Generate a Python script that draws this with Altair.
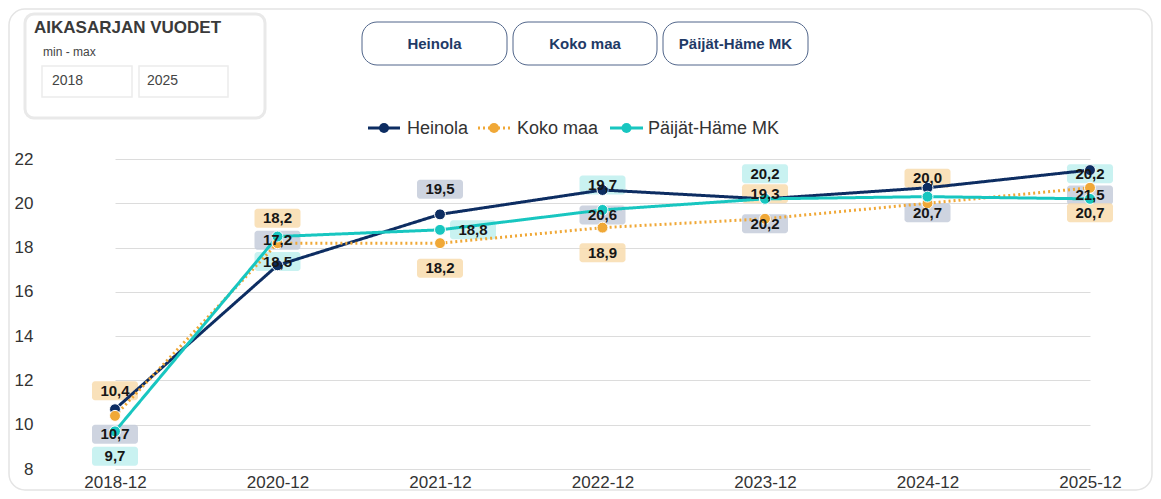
import altair as alt
import pandas as pd

# ---- data ----
periods = ["2018-12", "2020-12", "2021-12", "2022-12", "2023-12", "2024-12", "2025-12"]
series_names = ["Heinola", "Koko maa", "Päijät-Häme MK"]
heinola = [10.7, 17.2, 19.5, 20.6, 20.2, 20.7, 21.5]
koko_maa = [10.4, 18.2, 18.2, 18.9, 19.3, 20.0, 20.7]
paijat_hame = [9.7, 18.5, 18.8, 19.7, 20.2, 20.3, 20.2]
y_ticks = [8, 10, 12, 14, 16, 18, 20, 22]

# label placement per point: a = above, b = below, r = right, "" = hidden
heinola_pos = ["b", "a", "a", "b", "b", "b", "b"]
koko_maa_pos = ["a", "a", "b", "b", "a", "a", "b"]
paijat_hame_pos = ["b", "b", "r", "a", "a", "", "a"]

line_colors = ["#0d2d62", "#f0a837", "#18c6c0"]
bg_colors = ["#c5ccda", "#f8dcae", "#bff0ee"]

rows = []
for s, vals, pos, bg in zip(series_names, [heinola, koko_maa, paijat_hame],
                            [heinola_pos, koko_maa_pos, paijat_hame_pos], bg_colors):
    for p, v, ps in zip(periods, vals, pos):
        rows.append({"series": s, "period": p, "value": v, "pos": ps, "bg": bg,
                     "label": f"{v:.1f}".replace(".", ",")})
df = pd.DataFrame(rows)
one = pd.DataFrame({"k": [0]})

FONT = "Liberation Sans"
OX = 1  # decoration x shift (plot origin at page x=41)

xscale = alt.Scale(type="point", domain=periods, range=[74, 1049], padding=0)
yscale = alt.Scale(domain=[8, 22], nice=False, zero=False)

X = alt.X("period:N", scale=xscale, sort=periods,
          axis=alt.Axis(title=None, labelAngle=0, ticks=False, domain=False, grid=False,
                        labelFontSize=17, labelPadding=5, labelColor="#333", labelFont=FONT))
Y = alt.Y("value:Q", scale=yscale,
          axis=alt.Axis(title=None, values=y_ticks, ticks=False, domain=False, grid=True,
                        gridColor="#dcdcdc", gridWidth=1, labelFontSize=17, labelPadding=8,
                        labelColor="#333", labelFont=FONT))
color = alt.Color("series:N", scale=alt.Scale(domain=series_names, range=line_colors), legend=None)

base = alt.Chart(df)

# ---- decorations ----
deco = alt.Chart(one)
card = deco.mark_rect(fill="white", fillOpacity=0, stroke="#e4e4e4", strokeWidth=1.5, cornerRadius=16).encode(
    x=alt.value(-32), x2=alt.value(1111), y=alt.value(-150), y2=alt.value(331))
box = deco.mark_rect(fill="white", stroke="#e9e9e9", strokeWidth=3, cornerRadius=9).encode(
    x=alt.value(-17 + OX), x2=alt.value(223 + OX), y=alt.value(-145), y2=alt.value(-41))
box_title = deco.mark_text(align="left", baseline="middle", font=FONT, fontSize=17, fontWeight="bold",
                           color="#3a3a3a").encode(x=alt.value(-8 + OX), y=alt.value(-131),
                                                   text=alt.value("AIKASARJAN VUODET"))
minmax = deco.mark_text(align="left", baseline="middle", font=FONT, fontSize=12, color="#444").encode(
    x=alt.value(1 + OX), y=alt.value(-107), text=alt.value("min - max"))
in1 = deco.mark_rect(fill="white", stroke="#ececec", strokeWidth=1.5).encode(
    x=alt.value(0 + OX), x2=alt.value(90 + OX), y=alt.value(-93), y2=alt.value(-62))
in2 = deco.mark_rect(fill="white", stroke="#ececec", strokeWidth=1.5).encode(
    x=alt.value(97 + OX), x2=alt.value(186 + OX), y=alt.value(-93), y2=alt.value(-62))
in1t = deco.mark_text(align="left", baseline="middle", font=FONT, fontSize=14, color="#444").encode(
    x=alt.value(10 + OX), y=alt.value(-78), text=alt.value("2018"))
in2t = deco.mark_text(align="left", baseline="middle", font=FONT, fontSize=14, color="#444").encode(
    x=alt.value(105 + OX), y=alt.value(-78), text=alt.value("2025"))

buttons = []
for (x0, x1), name in zip([(320, 465), (471, 615), (621, 766)], series_names):
    buttons.append(deco.mark_rect(fill="white", stroke="#50658a", strokeWidth=1, cornerRadius=15).encode(
        x=alt.value(x0 + OX), x2=alt.value(x1 + OX), y=alt.value(-137), y2=alt.value(-94)))
    buttons.append(deco.mark_text(align="center", baseline="middle", font=FONT, fontSize=15,
                                  fontWeight="bold", color="#1f3a66").encode(
        x=alt.value((x0 + x1) / 2 + OX), y=alt.value(-115.5), text=alt.value(name)))

legend = []
for (x0, x1, tx), name, col, dash in zip([(326, 358, 365), (436, 468, 475), (568, 601, 606)],
                                         series_names, line_colors, [[1, 0], [2, 3], [1, 0]]):
    legend.append(deco.mark_rule(color=col, strokeWidth=3, strokeDash=dash).encode(
        x=alt.value(x0 + OX), x2=alt.value(x1 + OX), y=alt.value(-31)))
    legend.append(deco.mark_circle(color=col, opacity=1, size=100).encode(
        x=alt.value((x0 + x1) / 2 + OX), y=alt.value(-31)))
    legend.append(deco.mark_text(align="left", baseline="middle", font=FONT, fontSize=18,
                                 color="#333").encode(x=alt.value(tx + OX), y=alt.value(-30),
                                                      text=alt.value(name)))

# ---- label boxes ----
offsets = {"a": (0, -25), "b": (0, 25), "r": (33, 0)}
label_boxes = []
label_texts = []
for key, (dx, dy) in offsets.items():
    sub = base.transform_filter(alt.datum.pos == key)
    label_boxes.append(sub.mark_rect(cornerRadius=3, opacity=0.85,
                                     xOffset=dx - 23, x2Offset=dx + 23,
                                     yOffset=dy - 9.5, y2Offset=dy + 9.5).encode(
        x=X, x2=alt.X2("period"), y=Y, y2=alt.Y2("value"),
        fill=alt.Fill("bg:N", scale=None)))
    label_texts.append(sub.mark_text(dx=dx, dy=dy, font=FONT, fontSize=15, fontWeight="bold",
                                     color="#161616", baseline="middle").encode(
        x=X, y=Y, text="label:N"))

lines = base.mark_line(strokeWidth=3).encode(
    x=X, y=Y, color=color, detail="series:N",
    strokeDash=alt.StrokeDash("series:N", scale=alt.Scale(domain=series_names,
                                                          range=[[1, 0], [2, 3], [1, 0]]), legend=None))
points = base.mark_circle(size=120, opacity=1, stroke="white", strokeWidth=1).encode(
    x=X, y=Y, color=color)

chart = alt.layer(
    card, box, box_title, minmax, in1, in2, in1t, in2t, *buttons, *legend,
    *label_boxes, lines, points, *label_texts
).properties(
    width=1112, height=310,
    padding={"left": 33, "top": 151, "right": 0, "bottom": 22},
    autosize=alt.AutoSizeParams(type="none"),
).configure_view(stroke=None)

chart.save("out.html", embed_options={"renderer": "svg", "actions": False})
